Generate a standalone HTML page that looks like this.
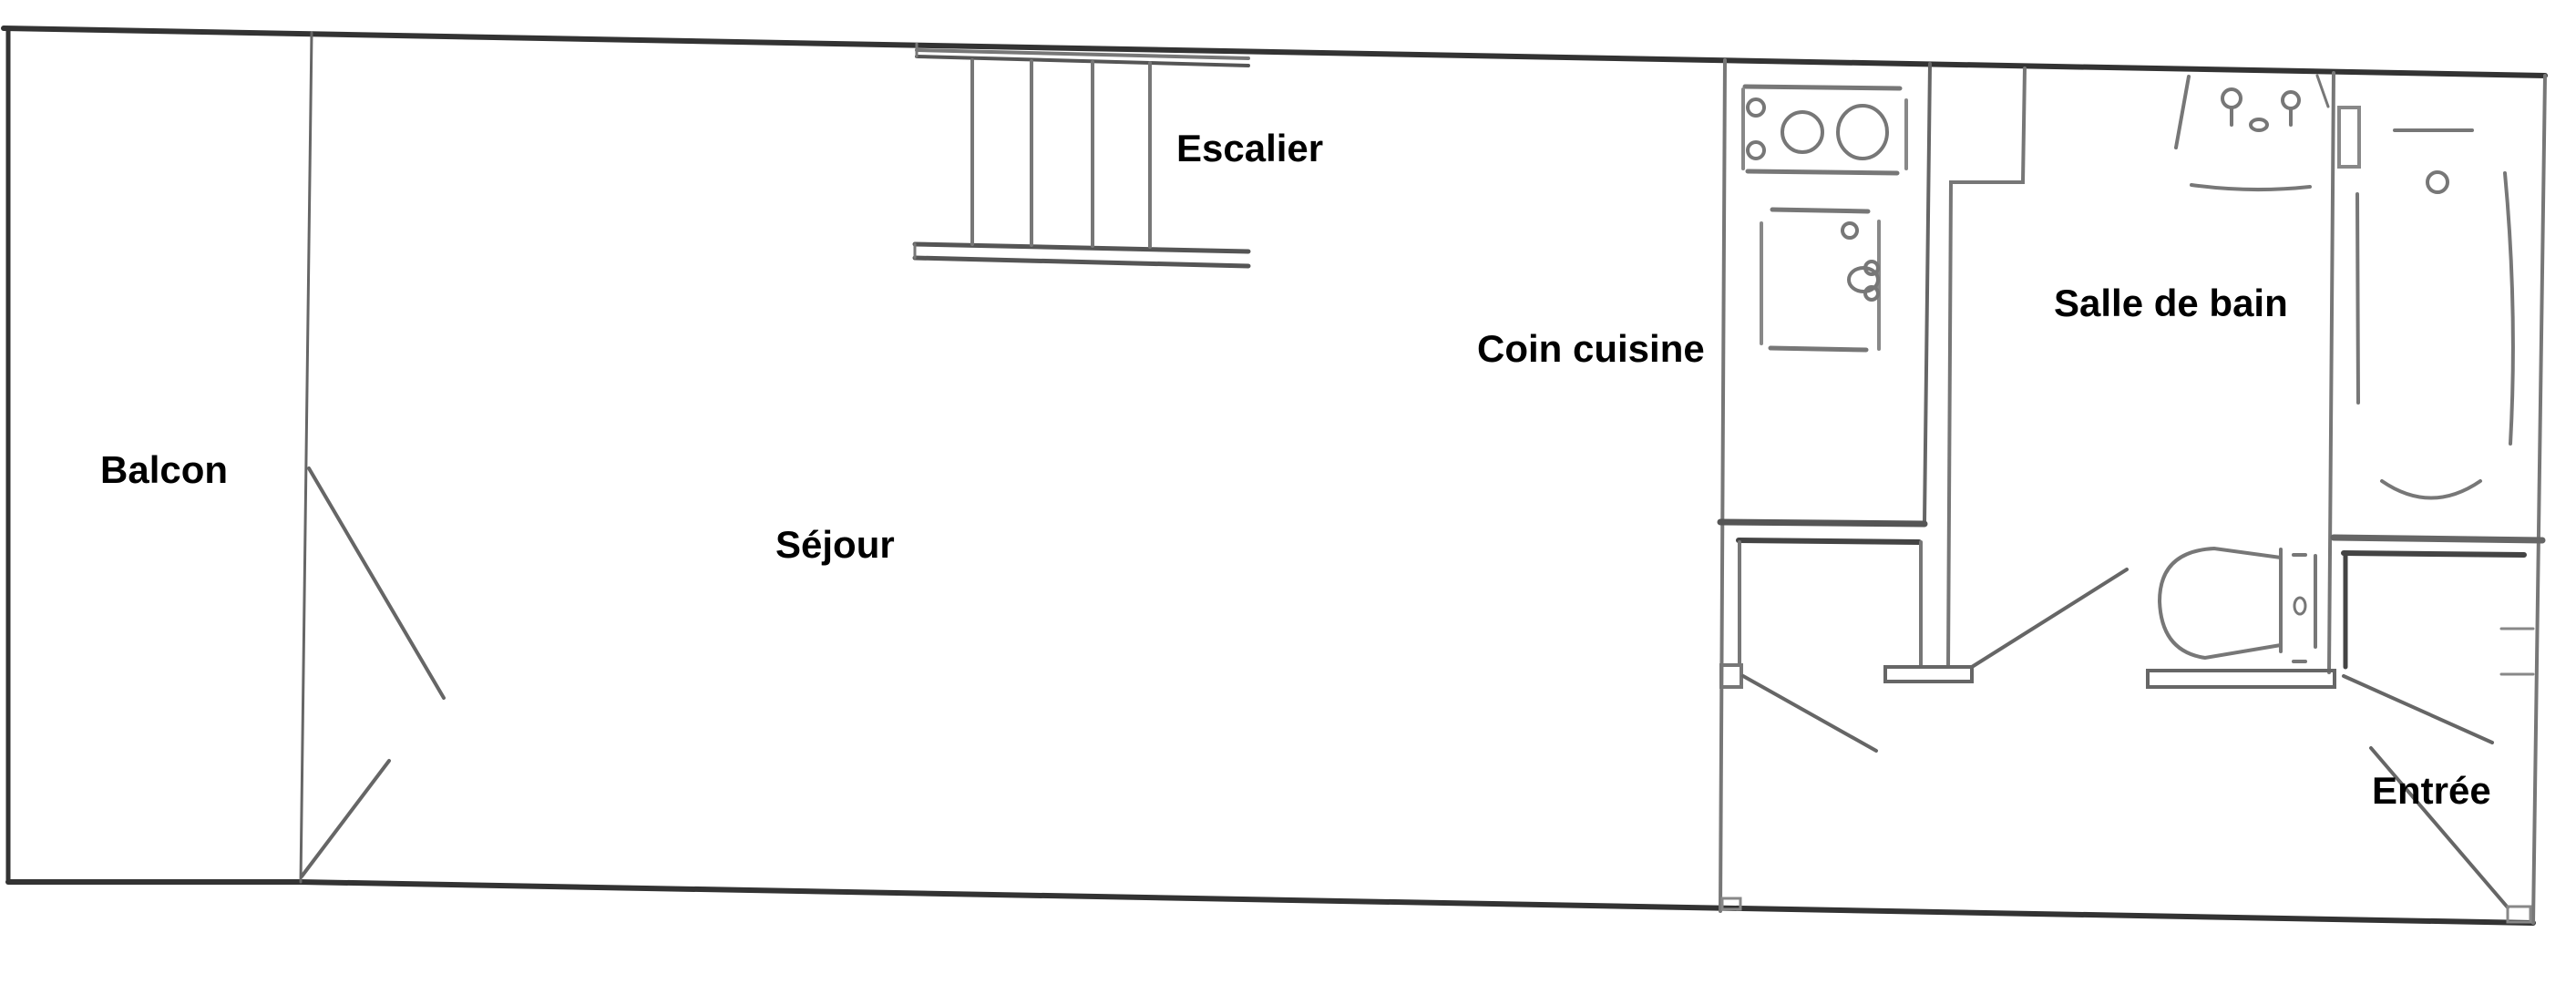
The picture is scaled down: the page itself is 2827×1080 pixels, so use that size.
<!DOCTYPE html>
<html><head><meta charset="utf-8"><style>
html,body{margin:0;padding:0;background:#fff;}
svg{display:block;}
text{font-family:"Liberation Sans",sans-serif;font-size:42px;font-weight:bold;fill:#000;}
</style></head><body>
<svg width="2827" height="1080" viewBox="0 0 2827 1080" xmlns="http://www.w3.org/2000/svg">
<g stroke="#444" stroke-width="5" fill="none" stroke-linecap="round">
<line x1="4" y1="31" x2="2793" y2="83" stroke="#333" stroke-width="6"/>
<line x1="9" y1="31" x2="9" y2="968" stroke="#333"/>
<line x1="9" y1="968" x2="330" y2="968" stroke="#333" stroke-width="6"/>
<line x1="330" y1="968" x2="2780" y2="1013" stroke="#333" stroke-width="6"/>
<line x1="2793" y1="83" x2="2780" y2="1013" stroke="#777" stroke-width="4"/>
<line x1="342" y1="36" x2="330" y2="968" stroke="#666" stroke-width="3"/>
<line x1="339" y1="514" x2="487" y2="766" stroke="#666" stroke-width="4"/>
<line x1="427" y1="835" x2="331" y2="962" stroke="#666" stroke-width="4"/>
<line x1="1006" y1="55" x2="1370" y2="64" stroke="#777" stroke-width="4"/>
<line x1="1006" y1="62" x2="1370" y2="72" stroke="#555" stroke-width="4"/>
<line x1="1006" y1="48" x2="1006" y2="62" stroke="#777" stroke-width="3"/>
<line x1="1004" y1="268" x2="1370" y2="276" stroke="#555" stroke-width="5"/>
<line x1="1004" y1="283" x2="1370" y2="292" stroke="#555" stroke-width="5"/>
<line x1="1004" y1="268" x2="1004" y2="283" stroke="#777" stroke-width="3"/>
<line x1="1067" y1="66" x2="1067" y2="268" stroke="#777" stroke-width="4"/>
<line x1="1132" y1="67" x2="1132" y2="269" stroke="#777" stroke-width="4"/>
<line x1="1199" y1="68" x2="1199" y2="270" stroke="#777" stroke-width="4"/>
<line x1="1262" y1="69" x2="1262" y2="271" stroke="#777" stroke-width="4"/>
<line x1="1893" y1="66" x2="1888" y2="1000" stroke="#777" stroke-width="4"/>
<line x1="2118" y1="70" x2="2112" y2="573" stroke="#666" stroke-width="4"/>
<line x1="1888" y1="573" x2="2112" y2="575" stroke="#555" stroke-width="7"/>
<line x1="1915" y1="95" x2="2085" y2="97" stroke="#777" stroke-width="5"/>
<line x1="1918" y1="188" x2="2082" y2="190" stroke="#777" stroke-width="5"/>
<line x1="1913" y1="98" x2="1913" y2="185" stroke="#888" stroke-width="4"/>
<line x1="2092" y1="110" x2="2092" y2="185" stroke="#888" stroke-width="4"/>
<circle cx="1927" cy="118" r="9" stroke="#777" stroke-width="4"/>
<circle cx="1927" cy="165" r="9" stroke="#777" stroke-width="4"/>
<ellipse cx="1978" cy="145" rx="22" ry="22" stroke="#777" stroke-width="4"/>
<ellipse cx="2044" cy="145" rx="27" ry="29" stroke="#777" stroke-width="4"/>
<line x1="1945" y1="230" x2="2050" y2="232" stroke="#777" stroke-width="5"/>
<line x1="1943" y1="382" x2="2048" y2="384" stroke="#777" stroke-width="5"/>
<line x1="1933" y1="245" x2="1933" y2="377" stroke="#888" stroke-width="4"/>
<line x1="2062" y1="243" x2="2062" y2="383" stroke="#888" stroke-width="4"/>
<circle cx="2030" cy="253" r="8" stroke="#777" stroke-width="4"/>
<ellipse cx="2045" cy="307" rx="16" ry="13" stroke="#777" stroke-width="4"/>
<circle cx="2054" cy="294" r="7" stroke="#777" stroke-width="4"/>
<circle cx="2054" cy="322" r="7" stroke="#777" stroke-width="4"/>
<line x1="1908" y1="593" x2="2106" y2="595" stroke="#444" stroke-width="6"/>
<line x1="1909" y1="595" x2="1909" y2="730" stroke="#777" stroke-width="4"/>
<line x1="2108" y1="595" x2="2108" y2="730" stroke="#777" stroke-width="4"/>
<rect x="1889" y="730" width="22" height="24" stroke="#777" stroke-width="4"/>
<line x1="1913" y1="742" x2="2059" y2="824" stroke="#666" stroke-width="4"/>
<rect x="1890" y="986" width="20" height="12" stroke="#888" stroke-width="3"/>
<polyline points="2222,75 2220,200 2141,200 2138,732" stroke="#777" stroke-width="4"/>
<rect x="2069" y="732" width="95" height="16" stroke="#666" stroke-width="4"/>
<line x1="2164" y1="732" x2="2334" y2="625" stroke="#666" stroke-width="4"/>
<line x1="2561" y1="80" x2="2556" y2="738" stroke="#777" stroke-width="4"/>
<rect x="2357" y="736" width="205" height="18" stroke="#666" stroke-width="4"/>
<line x1="2402" y1="84" x2="2388" y2="162" stroke="#777" stroke-width="4"/>
<line x1="2543" y1="83" x2="2555" y2="117" stroke="#777" stroke-width="3"/>
<path d="M2405 203 Q2470 212 2535 205" stroke="#777" stroke-width="4"/>
<circle cx="2449" cy="108" r="10" stroke="#777" stroke-width="4"/>
<line x1="2449" y1="118" x2="2449" y2="137" stroke="#777" stroke-width="4"/>
<circle cx="2514" cy="110" r="9" stroke="#777" stroke-width="4"/>
<line x1="2514" y1="119" x2="2514" y2="137" stroke="#777" stroke-width="4"/>
<ellipse cx="2479" cy="137" rx="9" ry="6" stroke="#777" stroke-width="4"/>
<path d="M2503 612 L2430 602 Q2370 605 2370 660 Q2372 715 2420 722 L2503 708" stroke="#777" stroke-width="4"/>
<line x1="2503" y1="603" x2="2503" y2="715" stroke="#777" stroke-width="4"/>
<line x1="2541" y1="610" x2="2541" y2="710" stroke="#777" stroke-width="4"/>
<ellipse cx="2524" cy="665" rx="6" ry="9" stroke="#777" stroke-width="3"/>
<line x1="2517" y1="609" x2="2530" y2="609" stroke="#777" stroke-width="4"/>
<line x1="2517" y1="726" x2="2530" y2="726" stroke="#777" stroke-width="4"/>
<line x1="2561" y1="590" x2="2790" y2="593" stroke="#666" stroke-width="7"/>
<rect x="2567" y="118" width="22" height="65" stroke="#888" stroke-width="4"/>
<line x1="2628" y1="143" x2="2713" y2="143" stroke="#777" stroke-width="4"/>
<line x1="2587" y1="213" x2="2588" y2="442" stroke="#777" stroke-width="4"/>
<path d="M2749 190 Q2763 340 2755 487" stroke="#777" stroke-width="4"/>
<circle cx="2675" cy="200" r="11" stroke="#777" stroke-width="4"/>
<path d="M2614 528 Q2668 565 2722 528" stroke="#777" stroke-width="4"/>
<line x1="2572" y1="607" x2="2770" y2="609" stroke="#444" stroke-width="6"/>
<line x1="2574" y1="609" x2="2574" y2="732" stroke="#444" stroke-width="5"/>
<line x1="2745" y1="690" x2="2780" y2="690" stroke="#888" stroke-width="3"/>
<line x1="2745" y1="740" x2="2780" y2="740" stroke="#888" stroke-width="3"/>
<line x1="2572" y1="742" x2="2735" y2="815" stroke="#666" stroke-width="4"/>
<line x1="2602" y1="821" x2="2752" y2="996" stroke="#666" stroke-width="4"/>
<rect x="2752" y="995" width="25" height="17" stroke="#888" stroke-width="3"/>
</g>
<text x="1291" y="177">Escalier</text>
<text x="110" y="530">Balcon</text>
<text x="851" y="612">Séjour</text>
<text x="1621" y="397">Coin cuisine</text>
<text x="2254" y="347">Salle de bain</text>
<text x="2603" y="882">Entrée</text>
</svg>
</body></html>
